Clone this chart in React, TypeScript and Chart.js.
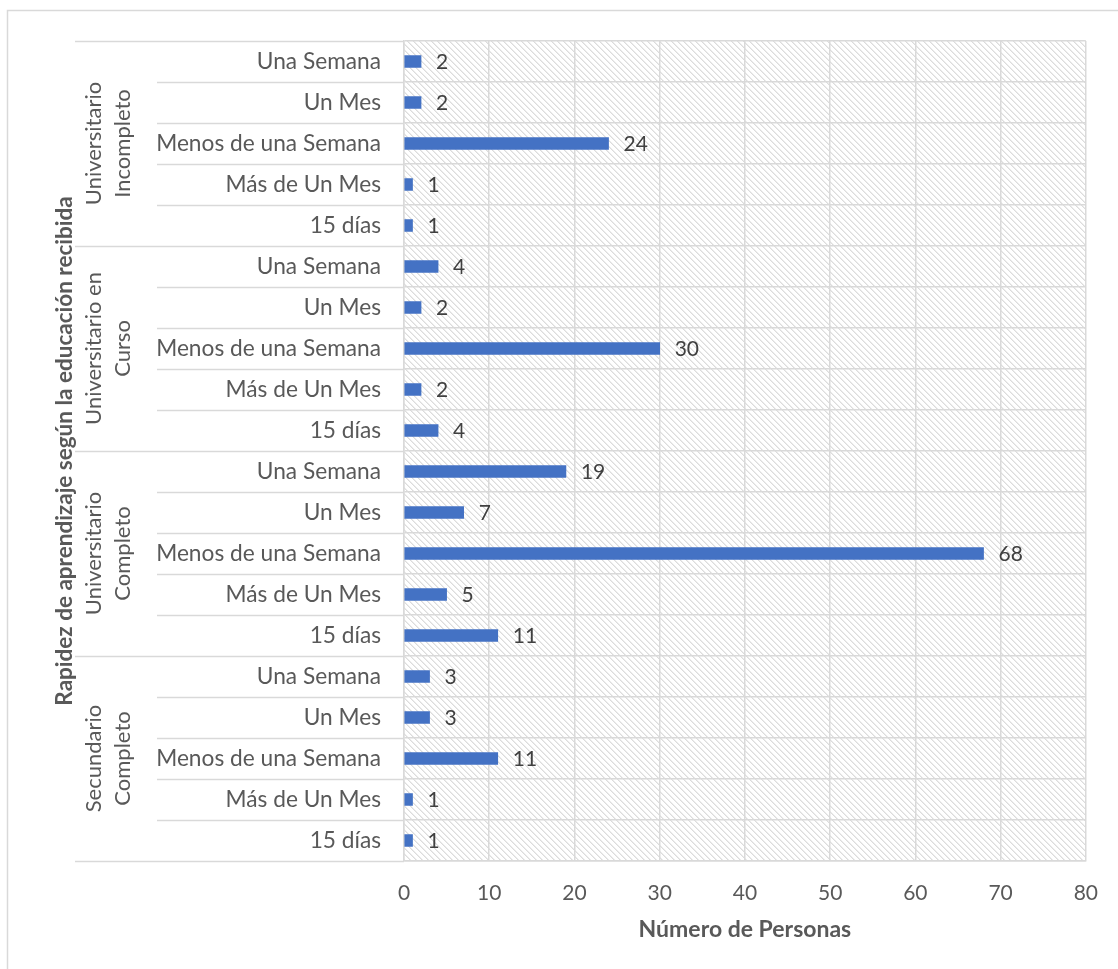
import React, { useEffect, useRef } from "react";
import { Chart, registerables } from "chart.js";

Chart.register(...registerables);

// ---------- DATA ----------
const groupLabels: string[][] = [
  ["Universitario", "Incompleto"],
  ["Universitario en", "Curso"],
  ["Universitario", "Completo"],
  ["Secundario", "Completo"],
];
const subcategories = ["Una Semana", "Un Mes", "Menos de una Semana", "Más de Un Mes", "15 días"];
const univIncompleto = [2, 2, 24, 1, 1];
const univEnCurso = [4, 2, 30, 2, 4];
const univCompleto = [19, 7, 68, 5, 11];
const secundarioCompleto = [3, 3, 11, 1, 1];
const xMin = 0;
const xMax = 80;
const xStep = 10;
const xTitle = "Número de Personas";
const yTitle = "Rapidez de aprendizaje según la educación recibida";

const FONT = "Lato";
const TEXT = "#595959";
const LABEL = "#404040";
const GRID = "#d9d9d9";

export default function App() {
  const ref = useRef<HTMLCanvasElement | null>(null);

  useEffect(() => {
    const canvas = ref.current;
    if (!canvas) return;

    const labels: string[] = [];
    const values: number[] = [];
    [univIncompleto, univEnCurso, univCompleto, secundarioCompleto].forEach((arr) => {
      arr.forEach((v, i) => {
        labels.push(subcategories[i]);
        values.push(v);
      });
    });

    // hatch pattern
    const tile = document.createElement("canvas");
    tile.width = 6;
    tile.height = 6;
    const tctx = tile.getContext("2d")!;
    tctx.fillStyle = "#ffffff";
    tctx.fillRect(0, 0, 6, 6);
    for (let i = 0; i < 6; i++) {
      tctx.fillStyle = "#dcdcdc";
      tctx.fillRect(i, i, 1, 1);
      tctx.fillStyle = "#ececec";
      tctx.fillRect((i + 1) % 6, i, 1, 1);
    }

    const decor = {
      id: "decor",
      beforeDraw(chart: any) {
        const { ctx, chartArea } = chart;
        const pattern = ctx.createPattern(tile, "repeat");
        ctx.save();
        ctx.fillStyle = pattern;
        ctx.fillRect(chartArea.left, chartArea.top, chartArea.right - chartArea.left, chartArea.bottom - chartArea.top);
        // outer border
        ctx.strokeStyle = GRID;
        ctx.lineWidth = 1.5;
        ctx.beginPath();
        ctx.moveTo(7.5, 1000);
        ctx.lineTo(7.5, 10.5);
        ctx.lineTo(1130, 10.5);
        ctx.stroke();
        ctx.restore();
      },
      afterDraw(chart: any) {
        const { ctx, chartArea } = chart;
        const yScale = chart.scales.y;
        const n = labels.length;
        const step = yScale.getPixelForValue(1) - yScale.getPixelForValue(0);
        ctx.save();
        ctx.strokeStyle = GRID;
        ctx.lineWidth = 1.5;
        for (let i = 0; i <= n; i++) {
          const y = Math.round(yScale.getPixelForValue(i) - step / 2) + 0.5;
          const isGroup = i % 5 === 0;
          ctx.beginPath();
          ctx.moveTo(isGroup ? 75 : 157, y);
          ctx.lineTo(chartArea.left, y);
          ctx.stroke();
        }
        // group labels
        ctx.fillStyle = TEXT;
        ctx.font = `22px ${FONT}`;
        ctx.textAlign = "center";
        ctx.textBaseline = "middle";
        groupLabels.forEach((lines, g) => {
          const yc = (yScale.getPixelForValue(g * 5) + yScale.getPixelForValue(g * 5 + 4)) / 2;
          ctx.save();
          ctx.translate(108, yc);
          ctx.rotate(-Math.PI / 2);
          const lh = 29;
          lines.forEach((t, k) => {
            ctx.fillText(t, 0, (k - (lines.length - 1) / 2) * lh);
          });
          ctx.restore();
        });
        // data labels
        const meta = chart.getDatasetMeta(0);
        ctx.fillStyle = LABEL;
        ctx.textAlign = "left";
        ctx.font = `21px ${FONT}`;
        meta.data.forEach((bar: any, i: number) => {
          ctx.fillText(String(values[i]), bar.x + 15, bar.y + 1);
        });
        ctx.restore();
      },
    };

    const chart = new Chart(canvas, {
      type: "bar",
      data: {
        labels,
        datasets: [
          {
            data: values,
            backgroundColor: "#4472C4",
            barThickness: 12,
            borderWidth: 0,
          },
        ],
      },
      options: {
        indexAxis: "y",
        animation: false,
        responsive: false,
        maintainAspectRatio: false,
        layout: { padding: { top: 41, right: 30, bottom: 0, left: 0 } },
        plugins: { legend: { display: false }, tooltip: { enabled: false } },
        scales: {
          x: {
            type: "linear",
            min: xMin,
            max: xMax,
            ticks: { stepSize: xStep, color: TEXT, font: { family: FONT, size: 21 }, padding: 20 },
            grid: { color: GRID, lineWidth: 1.5, drawTicks: false },
            border: { color: GRID, width: 1.5 },
            title: {
              display: true,
              text: xTitle,
              color: TEXT,
              font: { family: FONT, size: 23, weight: "bold" },
              padding: { top: 0, bottom: 26 },
            },
            afterFit(scale: any) {
              scale.height = 108;
            },
          },
          y: {
            type: "category",
            offset: true,
            ticks: { color: TEXT, font: { family: FONT, size: 22.7 }, padding: 23 },
            grid: { color: GRID, lineWidth: 1.5, drawTicks: false, offset: true },
            border: { color: GRID, width: 1.5 },
            title: {
              display: true,
              text: yTitle,
              color: TEXT,
              font: { family: FONT, size: 22.5, weight: "bold" },
              padding: { top: 51, bottom: 0 },
            },
            afterFit(scale: any) {
              scale.width = 404;
            },
          },
        },
      },
      plugins: [decor],
    } as any);

    return () => chart.destroy();
  }, []);

  return (
    <div style={{ position: "fixed", left: 0, top: 0, width: 1118, height: 969, background: "#fff" }}>
      <canvas ref={ref} width={1118} height={969} style={{ display: "block", width: 1118, height: 969 }} />
    </div>
  );
}
